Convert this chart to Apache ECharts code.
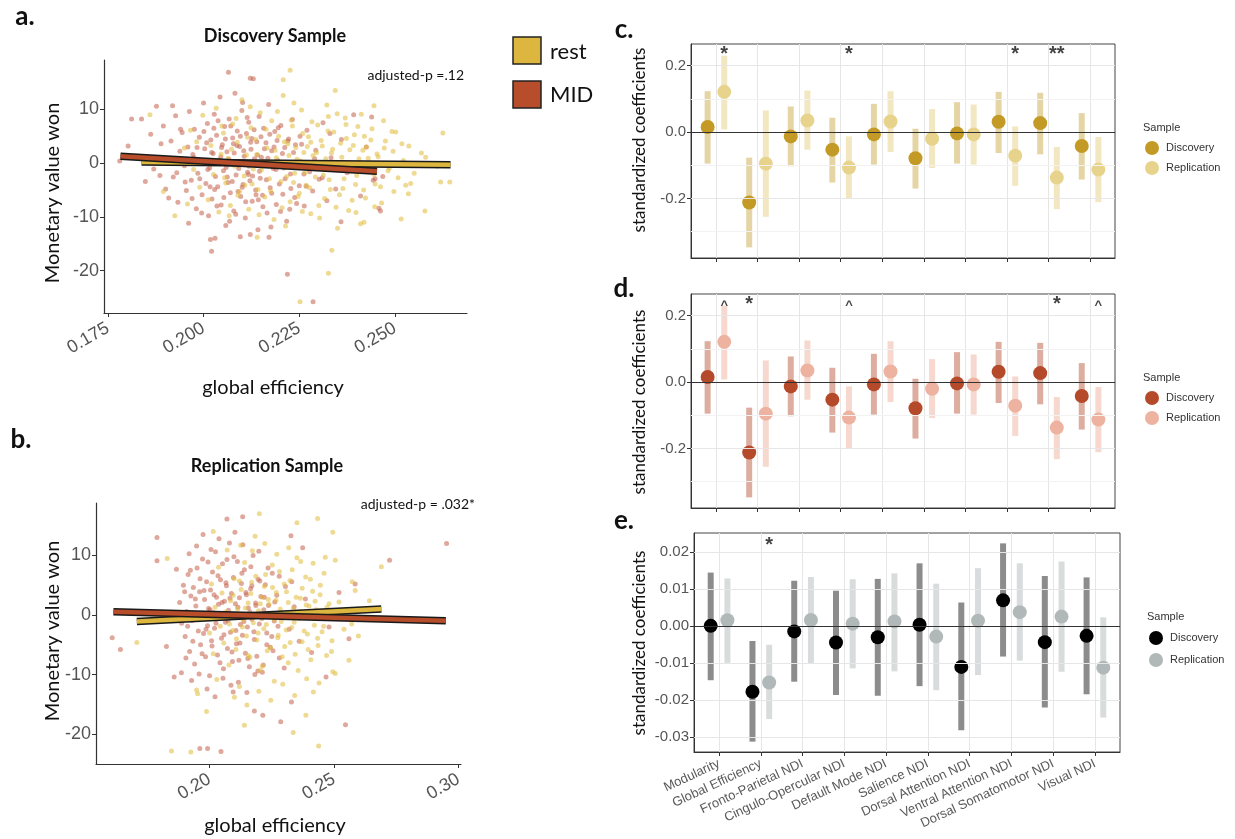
<!DOCTYPE html>
<html>
<head>
<meta charset="utf-8">
<script src="https://cdn.jsdelivr.net/npm/echarts@6/dist/echarts.min.js"></script>
<style>
html, body { margin: 0; padding: 0; background: #fff; }
#main { width: 1235px; height: 839px; }
</style>
</head>
<body>
<div id="main"></div>
<script>
// ---- scatter panels (a: discovery, b: replication)
var midA = [
  [0.1781,0.4],[0.1803,3.2],[0.1812,8.2],[0.1838,8.2],[0.1848,-3.4],[0.1886,-2.3],[0.1877,10.6],[0.1919,10.7],
  [0.1909,-6.5],[0.1961,-11.2],[0.2018,-14.2],[0.2030,-14.0],[0.2021,-16.4],[0.2219,-20.7],[0.2096,-13.7],
  [0.2122,-13.3],[0.2171,-13.8],[0.2065,16.9],[0.2122,15.8],[0.2439,8.6],[0.2458,-8.4],[0.2462,-8.9],
  [0.2359,-10.9],[0.2443,-3.2],[0.2286,-25.8],[0.2448,-2.9],
  [0.1853,1.2],[0.1862,5.4],[0.1870,-1.1],[0.1889,3.6],[0.1895,6.9],[0.1901,-4.8],[0.1908,0.9],[0.1915,4.1],
  [0.1921,-2.6],[0.1927,8.8],[0.1933,-7.3],[0.1938,2.2],[0.1944,5.7],[0.1950,-0.5],[0.1955,-5.1],[0.1959,3.0],
  [0.1963,9.6],[0.1968,-3.2],[0.1972,1.6],[0.1976,6.3],[0.1981,-8.5],[0.1985,-1.9],[0.1989,4.8],[0.1993,0.3],
  [0.1996,-5.9],[0.2000,11.2],[0.2003,2.7],[0.2006,-3.8],[0.2010,7.4],[0.2013,-9.8],[0.2016,-0.9],[0.2019,4.3],
  [0.2022,-6.7],[0.2025,1.8],[0.2028,9.1],[0.2031,-2.5],[0.2034,5.2],[0.2037,-4.4],[0.2040,0.6],[0.2043,12.3],
  [0.2046,-7.8],[0.2049,3.4],[0.2052,-1.4],[0.2055,6.8],[0.2058,-11.6],[0.2061,2.1],[0.2064,-3.6],[0.2067,8.2],
  [0.2070,-5.5],[0.2073,0.2],[0.2076,4.7],[0.2079,-8.9],[0.2082,13.0],[0.2085,-2.2],[0.2088,6.0],[0.2091,-0.4],
  [0.2094,3.1],[0.2097,-6.2],[0.2100,9.8],[0.2103,-4.0],[0.2106,1.3],[0.2109,-10.2],[0.2112,5.5],[0.2115,-1.7],
  [0.2118,7.6],[0.2121,-3.3],[0.2124,2.6],[0.2127,-7.1],[0.2130,15.7],[0.2133,0.8],[0.2136,-5.0],[0.2139,4.0],
  [0.2142,-12.4],[0.2145,8.7],[0.2148,-2.8],[0.2151,1.1],[0.2154,-6.0],[0.2157,6.5],[0.2160,-0.2],[0.2163,3.8],
  [0.2166,-9.3],[0.2170,10.9],[0.2174,-4.6],[0.2178,2.3],[0.2182,-1.0],[0.2186,5.9],[0.2190,-7.7],[0.2194,0.5],
  [0.2198,-3.9],[0.2202,7.0],[0.2207,-5.8],[0.2212,2.9],[0.2217,-10.8],[0.2222,4.5],[0.2227,-2.0],[0.2232,8.1],
  [0.2238,-6.4],[0.2244,0.0],[0.2250,-4.2],[0.2256,3.5],[0.2263,-8.0],[0.2270,6.1],[0.2277,-1.6],[0.2285,-5.2],
  [0.2293,2.4],[0.2302,-3.0],[0.2312,7.5],[0.2322,-7.0],[0.2333,1.0],[0.2345,-4.8],[0.2360,4.4],[0.2375,-1.8],
  [0.2392,9.0],[0.2410,-6.1],[0.2425,3.0],[0.2468,-2.5],
  [0.1975,1.0],[0.1990,-2.9],[0.2001,5.9],[0.2011,-1.2],[0.2021,2.0],[0.2029,-4.9],[0.2038,7.9],[0.2042,-0.1],
  [0.2047,2.9],[0.2053,-6.4],[0.2057,4.5],[0.2062,-2.6],[0.2066,0.7],[0.2071,6.9],[0.2075,-3.4],[0.2080,1.9],
  [0.2084,-9.5],[0.2087,3.3],[0.2092,-1.0],[0.2096,5.0],[0.2101,-4.5],[0.2105,2.3],[0.2110,-7.2],[0.2114,8.5],
  [0.2119,-0.6],[0.2123,3.9],[0.2128,-2.4],[0.2132,6.2],[0.2137,-5.9],[0.2141,1.5],[0.2146,-1.5],[0.2150,4.9],
  [0.2155,-8.1],[0.2159,2.7],[0.2164,-3.1],[0.2168,0.9],[0.2173,5.4],[0.2178,-5.6],[0.2184,3.0],[0.2189,-1.2],
  [0.2195,6.6],[0.2201,-9.0],[0.2206,1.8],[0.2213,-2.9],[0.2220,4.1],[0.2228,-4.7],[0.2235,2.0],[0.2243,-7.5],
  [0.2252,5.0],[0.2262,-2.0],[0.1930,-1.8],[0.1940,6.3],[0.1952,-3.5],[0.1962,0.4],[0.1970,-6.6],[0.1983,2.9],
  [0.1995,-9.3],[0.2008,3.8],[0.2017,-4.4],[0.2027,6.5],[0.2035,-8.0],[0.2045,1.2],[0.2059,-0.8],[0.2068,-10.8],
  [0.2078,3.6],[0.2090,-5.3],[0.2102,11.3],[0.2117,-2.1],[0.2126,4.6],[0.2143,-6.8],[0.2158,0.3],[0.2176,-11.9],
  [0.2192,4.2],[0.2210,-0.9],[0.2225,-8.6],[0.2240,3.4],[0.2268,-4.3],[0.2290,0.8],[0.2310,-2.7],[0.2330,5.5]
];
var restA = [
  [0.2226,17.3],[0.2208,15.5],[0.2344,13.5],[0.2625,5.6],[0.2619,-3.5],[0.2643,-3.5],[0.2578,-8.9],[0.2516,-10.4],
  [0.2335,-16.2],[0.2326,-20.5],[0.2252,-25.8],[0.2445,10.7],[0.2502,5.8],[0.2536,3.2],[0.2569,1.9],[0.2528,-4.1],
  [0.2541,-3.8],[0.2497,-5.3],[0.2419,-11.0],[0.2410,-11.3],[0.1860,9.0],[0.1895,-5.3],[0.1925,-9.8],[0.2140,-13.8],
  [0.1950,2.8],[0.1958,-7.6],[0.1966,6.1],[0.1974,-1.2],[0.1982,4.0],[0.1990,-4.5],[0.1998,8.9],[0.2005,0.4],
  [0.2012,-6.8],[0.2019,3.3],[0.2026,-2.1],[0.2033,10.2],[0.2040,-9.1],[0.2046,1.7],[0.2052,5.6],[0.2058,-3.7],
  [0.2064,0.9],[0.2070,-7.9],[0.2076,7.3],[0.2082,-0.6],[0.2088,3.9],[0.2094,-5.3],[0.2100,11.8],[0.2106,-2.4],
  [0.2112,1.5],[0.2118,-8.6],[0.2124,6.6],[0.2130,-1.1],[0.2136,4.4],[0.2142,-4.9],[0.2148,9.4],[0.2154,0.2],
  [0.2160,-6.3],[0.2166,2.8],[0.2172,-2.9],[0.2178,7.9],[0.2184,-10.5],[0.2190,1.0],[0.2196,5.0],[0.2202,-3.4],
  [0.2208,12.6],[0.2214,-0.8],[0.2220,3.6],[0.2226,-7.2],[0.2232,6.9],[0.2238,-1.9],[0.2244,0.7],[0.2250,-5.6],
  [0.2256,9.9],[0.2262,2.0],[0.2268,-4.1],[0.2274,4.9],[0.2280,-9.4],[0.2286,1.4],[0.2292,-2.6],[0.2298,7.1],
  [0.2304,-0.3],[0.2310,3.2],[0.2316,-6.6],[0.2322,10.8],[0.2328,-3.1],[0.2334,1.9],[0.2340,5.8],[0.2346,-8.2],
  [0.2352,0.1],[0.2358,3.7],[0.2364,-4.7],[0.2370,8.4],[0.2376,-1.4],[0.2382,2.5],[0.2388,-6.9],[0.2394,5.3],
  [0.2400,-2.3],[0.2406,0.8],[0.2412,9.1],[0.2418,-5.0],[0.2425,3.0],[0.2432,-1.6],[0.2440,6.4],[0.2448,-3.9],
  [0.2456,1.2],[0.2465,-7.4],[0.2475,4.1],[0.2485,-0.9],[0.2495,2.2],[0.2508,-2.7],[0.2522,0.5],[0.2550,-1.9],
  [0.2580,1.1],[0.2610,-0.6],
  [0.2055,-2.7],[0.2073,2.6],[0.2090,-6.0],[0.2103,0.3],[0.2115,4.8],[0.2127,-3.9],[0.2139,1.6],[0.2151,-1.3],
  [0.2163,6.3],[0.2175,-5.2],[0.2187,2.4],[0.2199,-0.4],[0.2205,-8.3],[0.2211,4.0],[0.2217,-2.5],[0.2223,1.4],
  [0.2229,8.0],[0.2235,-3.6],[0.2241,2.9],[0.2247,-6.2],[0.2253,0.4],[0.2259,5.5],[0.2265,-1.8],[0.2271,3.1],
  [0.2277,-4.6],[0.2283,7.7],[0.2289,-0.5],[0.2295,2.0],[0.2301,-7.9],[0.2307,4.2],[0.2313,-2.2],[0.2319,0.8],
  [0.2325,6.0],[0.2331,-4.9],[0.2337,2.6],[0.2343,-1.0],[0.2349,9.2],[0.2355,-5.9],[0.2361,1.1],[0.2367,-2.9],
  [0.2373,4.6],[0.2379,-8.8],[0.2385,0.0],[0.2391,3.3],[0.2397,-4.0],[0.2403,6.8],[0.2409,-1.2],[0.2416,2.4],
  [0.2423,-6.5],[0.2430,0.9],[0.2437,4.3],[0.2445,-2.1],[0.2453,1.7],[0.2462,-4.4],[0.2472,2.8],[0.2482,-1.4],
  [0.2492,5.9],[0.2505,-0.2],[0.2518,3.6],[0.2535,-5.7],[0.2048,6.9],[0.2067,-9.8],[0.2085,8.3],[0.2108,-4.1],
  [0.2122,10.5],[0.2145,-9.6],[0.2170,0.0],[0.2193,9.6],[0.2214,-11.7],[0.2236,11.2],[0.2258,-9.0],[0.2280,3.9],
  [0.2303,-10.2],[0.2326,8.7],[0.2350,-12.1],[0.2372,7.2],[0.2398,-9.2],[0.2420,5.0],[0.2447,-8.1],[0.2470,7.9]
];
var midB = [
  [0.1789,13.0],[0.1789,9.1],[0.1609,-3.8],[0.1642,-5.8],[0.1961,-22.4],[0.1992,-22.4],[0.2046,-22.9],[0.2070,16.1],
  [0.2133,16.5],[0.1867,7.7],[0.1858,-10.4],[0.1887,-9.7],[0.2095,-12.9],[0.2180,-16.1],[0.2214,-16.8],[0.2286,-17.9],
  [0.1827,-5.3],[0.2952,12.0],[0.2723,9.2],[0.2327,13.3],[0.2374,11.3],[0.2585,5.2],[0.2468,-10.4],[0.2546,-18.4],
  [0.2329,-14.6],
  [0.1880,2.1],[0.1888,-1.4],[0.1895,5.0],[0.1902,-3.6],[0.1908,0.6],[0.1914,6.8],[0.1920,-6.1],[0.1925,3.2],
  [0.1930,-0.9],[0.1935,4.6],[0.1940,-8.2],[0.1945,1.5],[0.1950,7.9],[0.1955,-2.7],[0.1960,3.9],[0.1964,-5.0],
  [0.1968,0.1],[0.1972,9.4],[0.1976,-3.1],[0.1980,2.6],[0.1984,-7.0],[0.1988,5.6],[0.1992,-1.8],[0.1996,1.1],
  [0.2000,-10.2],[0.2004,4.2],[0.2008,-4.3],[0.2012,7.2],[0.2016,0.4],[0.2020,-2.2],[0.2024,10.6],[0.2028,3.0],
  [0.2032,-6.7],[0.2036,1.8],[0.2040,-0.5],[0.2044,5.9],[0.2048,-3.9],[0.2052,8.6],[0.2056,-9.0],[0.2060,2.3],
  [0.2064,-1.2],[0.2068,4.9],[0.2072,-5.6],[0.2076,0.8],[0.2080,12.1],[0.2084,-2.9],[0.2088,3.6],[0.2092,-7.8],
  [0.2096,6.3],[0.2100,-0.3],[0.2104,1.9],[0.2108,-4.8],[0.2112,9.0],[0.2116,-11.3],[0.2120,2.9],[0.2124,-1.6],
  [0.2128,5.3],[0.2132,-3.4],[0.2136,0.0],[0.2140,7.6],[0.2144,-6.4],[0.2148,3.4],[0.2152,-2.0],[0.2156,1.2],
  [0.2160,-8.7],[0.2165,4.4],[0.2170,-0.7],[0.2175,10.0],[0.2180,-4.1],[0.2185,2.0],[0.2190,-6.9],[0.2195,6.0],
  [0.2200,-1.5],[0.2206,3.1],[0.2212,-9.6],[0.2218,0.9],[0.2224,5.1],[0.2230,-3.0],[0.2237,1.6],[0.2244,-5.4],
  [0.2252,7.0],[0.2260,-1.0],[0.2270,3.3],[0.2280,-7.2],[0.2292,0.3],[0.2305,4.8],[0.2320,-2.4],[0.2340,1.4],
  [0.2360,-4.4],[0.2385,2.7],[0.2410,-6.3],[0.2440,0.6],[0.2480,-2.0],[0.2520,3.8],[0.2560,-4.0],
  [0.1900,3.9],[0.1912,-1.9],[0.1923,7.5],[0.1933,-4.4],[0.1943,2.7],[0.1953,-0.3],[0.1962,6.1],[0.1970,-6.5],
  [0.1978,4.1],[0.1986,-2.4],[0.1994,8.9],[0.2002,0.9],[0.2010,-5.2],[0.2018,3.4],[0.2026,-1.4],[0.2034,6.6],
  [0.2042,-8.0],[0.2050,2.1],[0.2058,-3.3],[0.2066,5.4],[0.2074,-0.9],[0.2082,2.8],[0.2090,-6.2],[0.2098,9.8],
  [0.2106,-2.6],[0.2114,1.3],[0.2122,-4.7],[0.2130,7.0],[0.2138,-1.1],[0.2146,3.8],[0.2154,-7.3],[0.2162,0.5],
  [0.2170,4.9],[0.2178,-2.8],[0.2186,1.6],[0.2194,-9.4],[0.2202,5.7],[0.2210,-0.6],[0.2220,3.0],[0.2230,-5.0],
  [0.2240,0.2],[0.2250,-3.6],[0.2262,2.2],[0.2275,-1.9],[0.1905,-7.2],[0.1918,10.3],[0.1928,-11.0],[0.1948,11.6],
  [0.1958,-9.9],[0.1974,13.5],[0.1990,-12.4],[0.2006,11.0],[0.2022,-13.7],[0.2038,12.8],[0.2054,-10.6],[0.2070,9.3],
  [0.2086,-11.8],[0.2102,13.9],[0.2118,-7.6],[0.2134,11.8],[0.2150,-13.0],[0.2166,8.1],[0.2182,-10.0],[0.2198,10.7],
  [0.2216,-8.4],[0.2235,7.9],[0.2255,-6.0],[0.2280,6.5],[0.2300,-8.9],[0.2330,5.6]
];
var restB = [
  [0.1708,-4.6],[0.1847,-22.8],[0.1925,-23.0],[0.2015,14.0],[0.2200,17.0],[0.1948,-12.6],[0.1952,-13.2],[0.1988,-16.2],
  [0.2140,-18.5],[0.2690,8.1],[0.2434,16.2],[0.2495,13.9],[0.2351,15.5],[0.2505,9.2],[0.2642,2.4],[0.2573,5.6],
  [0.2598,-3.5],[0.2571,-1.5],[0.2495,-9.5],[0.2417,-12.9],[0.2387,-16.8],[0.2336,-19.7],[0.2438,-22.0],[0.1830,9.5],
  [0.2000,-3.0],[0.2008,5.2],[0.2015,-6.5],[0.2022,1.3],[0.2029,-10.8],[0.2036,8.0],[0.2043,-1.9],[0.2050,3.7],
  [0.2057,-4.7],[0.2064,0.5],[0.2071,10.9],[0.2078,-8.4],[0.2085,2.4],[0.2092,-2.6],[0.2099,6.1],[0.2106,-5.8],
  [0.2113,1.0],[0.2120,-12.0],[0.2127,4.3],[0.2134,-0.8],[0.2141,8.8],[0.2148,-3.5],[0.2155,2.0],[0.2162,-7.1],
  [0.2169,5.5],[0.2176,-1.3],[0.2183,13.2],[0.2190,-4.2],[0.2197,0.7],[0.2204,-9.3],[0.2211,3.0],[0.2218,-2.3],
  [0.2225,6.8],[0.2232,-6.0],[0.2239,1.8],[0.2246,-0.2],[0.2253,4.6],[0.2260,-11.1],[0.2267,2.5],[0.2274,-3.8],
  [0.2281,7.3],[0.2288,-1.1],[0.2295,0.3],[0.2302,-5.3],[0.2309,3.9],[0.2316,-8.0],[0.2323,5.8],[0.2330,-2.1],
  [0.2337,1.1],[0.2344,-6.6],[0.2351,9.6],[0.2358,-0.6],[0.2365,2.8],[0.2372,-4.5],[0.2379,0.2],[0.2386,6.4],
  [0.2393,-3.2],[0.2400,1.5],[0.2407,-7.5],[0.2414,4.0],[0.2421,-1.7],[0.2428,0.9],[0.2436,-5.1],[0.2444,3.4],
  [0.2452,-2.8],[0.2460,7.0],[0.2470,-6.8],[0.2480,1.9],[0.2492,-4.3],[0.2505,-9.8],[0.2520,2.2],[0.2540,-2.4],
  [0.2560,-7.6],[0.2585,4.1],
  [0.2080,-1.5],[0.2095,3.3],[0.2108,-4.0],[0.2120,5.7],[0.2132,-2.0],[0.2144,1.2],[0.2156,-6.8],[0.2166,3.6],
  [0.2176,-0.4],[0.2186,6.5],[0.2195,-3.0],[0.2204,1.9],[0.2212,-8.6],[0.2220,4.8],[0.2228,-1.6],[0.2236,2.6],
  [0.2244,-5.5],[0.2252,8.4],[0.2260,-0.8],[0.2268,3.8],[0.2276,-3.4],[0.2284,1.0],[0.2292,-7.0],[0.2300,5.2],
  [0.2308,-2.5],[0.2316,2.1],[0.2324,-4.6],[0.2332,7.6],[0.2340,-1.2],[0.2348,3.0],[0.2356,-9.3],[0.2364,0.6],
  [0.2372,4.5],[0.2380,-2.7],[0.2388,1.7],[0.2396,-5.8],[0.2405,6.0],[0.2414,-0.3],[0.2424,2.3],[0.2434,-3.9],
  [0.2445,5.0],[0.2458,-1.9],[0.2472,1.3],[0.2490,-6.1],[0.2100,-13.8],[0.2125,11.7],[0.2150,-15.1],[0.2172,10.8],
  [0.2198,-12.8],[0.2222,12.0],[0.2246,-14.3],[0.2270,10.2],[0.2294,-11.6],[0.2318,11.3],[0.2342,-13.5],[0.2366,9.0],
  [0.2390,-10.7],[0.2416,8.7],[0.2440,-11.4],[0.2465,9.7]
];
// fitted lines (end points)
var fitMidA = [[0.1783, 1.3], [0.2453, -1.5]];
var fitRestA = [[0.1838, 0.2], [0.2645, -0.3]];
var fitMidB = [[0.1614, 0.55], [0.2949, -0.95]];
var fitRestB = [[0.1708, -1.1], [0.2690, 1.0]];

var ticksAx = [0.175, 0.200, 0.225, 0.250];
var ticksBx = [0.20, 0.25, 0.30];
var ticksY = [-20, -10, 0, 10];

// ---- coefficient panels
var categories = ['Modularity', 'Global Efficiency', 'Fronto-Parietal NDI', 'Cingulo-Opercular NDI',
  'Default Mode NDI', 'Salience NDI', 'Dorsal Attention NDI', 'Ventral Attention NDI',
  'Dorsal Somatomotor NDI', 'Visual NDI'];

// panels c and d show the same estimates
var discEst = [0.015, -0.212, -0.013, -0.053, -0.007, -0.079, -0.004, 0.031, 0.027, -0.042];
var discLo = [-0.095, -0.347, -0.103, -0.152, -0.098, -0.170, -0.095, -0.063, -0.067, -0.143];
var discHi = [0.123, -0.077, 0.077, 0.043, 0.085, 0.010, 0.090, 0.121, 0.118, 0.057];
var repEst = [0.121, -0.095, 0.035, -0.107, 0.032, -0.020, -0.007, -0.071, -0.137, -0.113];
var repLo = [0.008, -0.255, -0.053, -0.200, -0.060, -0.108, -0.098, -0.162, -0.232, -0.211];
var repHi = [0.230, 0.065, 0.125, -0.013, 0.123, 0.069, 0.083, 0.017, -0.045, -0.015];

var eDiscEst = [0.0000, -0.0178, -0.0015, -0.0045, -0.0031, 0.0003, -0.0111, 0.0069, -0.0044, -0.0027];
var eDiscLo = [-0.0147, -0.0313, -0.0151, -0.0187, -0.0189, -0.0163, -0.0282, -0.0083, -0.0221, -0.0185];
var eDiscHi = [0.0144, -0.0041, 0.0122, 0.0095, 0.0127, 0.0169, 0.0063, 0.0223, 0.0135, 0.0131];
var eRepEst = [0.0015, -0.0153, 0.0016, 0.0006, 0.0012, -0.0029, 0.0014, 0.0037, 0.0025, -0.0113];
var eRepLo = [-0.0100, -0.0252, -0.0102, -0.0115, -0.0123, -0.0174, -0.0133, -0.0094, -0.0124, -0.0248];
var eRepHi = [0.0128, -0.0051, 0.0132, 0.0126, 0.0142, 0.0114, 0.0156, 0.0169, 0.0174, 0.0023];

var cMarkX = [1.2, 4.2, 8.2, 9.2];
var cMarkText = ['*', '*', '*', '**'];
var dMarkX = [1.2, 1.8, 4.2, 9.2, 10.2];
var dMarkText = ['^', '*', '^', '*', '^'];
var eMarkX = [2.2];
var eMarkText = ['*'];

var catTicks = [1, 2, 3, 4, 5, 6, 7, 8, 9, 10];
var cdMajor = [-0.2, 0, 0.2];
var cdMinor = [-0.3, -0.1, 0.1];
var eMajor = [-0.03, -0.02, -0.01, 0, 0.01, 0.02];
var eMinor = [-0.025, -0.015, -0.005, 0.005, 0.015];

var chart = echarts.init(document.getElementById('main'));
var FONT = "'Liberation Sans', Arial, sans-serif";
var LATO = "Lato, 'Open Sans', sans-serif";

function rangeData(lo, hi, off) {
  return lo.map(function (v, i) { return [i + 1 + off, v, hi[i]]; });
}
function pointData(est, off) {
  return est.map(function (v, i) { return [i + 1 + off, v]; });
}
function errBar(params, api) {
  var a = api.coord([api.value(0), api.value(1)]);
  var b = api.coord([api.value(0), api.value(2)]);
  return {
    type: 'rect',
    shape: { x: a[0] - 3, y: b[1], width: 6, height: a[1] - b[1] },
    style: { fill: api.visual('color') }
  };
}

function scatterX(gi, min, max, ticks, dec) {
  return {
    gridIndex: gi, type: 'value', min: min, max: max,
    axisLine: { show: true, onZero: false, lineStyle: { color: '#333', width: 1.2 } },
    axisTick: { show: true, length: 4, customValues: ticks, lineStyle: { color: '#333' } },
    axisLabel: {
      customValues: ticks, rotate: 30, fontSize: 18, color: '#555', margin: 14, fontFamily: FONT,
      formatter: function (v) { return v.toFixed(dec); }
    },
    splitLine: { show: false }
  };
}
function scatterY(gi, min, max) {
  return {
    gridIndex: gi, type: 'value', min: min, max: max,
    axisLine: { show: true, onZero: false, lineStyle: { color: '#333', width: 1.2 } },
    axisTick: { show: true, length: 4, customValues: ticksY, lineStyle: { color: '#333' } },
    axisLabel: { customValues: ticksY, fontSize: 18, color: '#555', margin: 5, fontFamily: FONT },
    splitLine: { show: false }
  };
}
function coefX(gi, showLabels) {
  return {
    gridIndex: gi, type: 'value', min: 0.4, max: 10.6,
    axisLine: { show: true, onZero: false, lineStyle: { color: '#333' } },
    axisTick: { show: true, length: 4, customValues: catTicks, lineStyle: { color: '#333' } },
    axisLabel: {
      show: showLabels, customValues: catTicks, rotate: 25, fontSize: 13, color: '#5a5a5a',
      margin: 11, fontFamily: FONT,
      formatter: function (v) { return categories[Math.round(v) - 1]; }
    },
    splitLine: { show: false }
  };
}
function coefY(gi, min, max, major, dec) {
  return {
    gridIndex: gi, type: 'value', min: min, max: max,
    axisLine: { show: true, onZero: false, lineStyle: { color: '#333' } },
    axisTick: { show: true, length: 4, customValues: major, lineStyle: { color: '#333' } },
    axisLabel: {
      customValues: major, fontSize: 15, color: '#555', margin: 5, fontFamily: FONT,
      formatter: function (v) { return v.toFixed(dec); }
    },
    splitLine: { show: false }
  };
}
function gridLines(gi, major, minor) {
  var data = [];
  catTicks.forEach(function (v) { data.push({ xAxis: v, lineStyle: { color: '#e6e6e6', width: 1 } }); });
  minor.forEach(function (v) { data.push({ yAxis: v, lineStyle: { color: '#f2f2f2', width: 1 } }); });
  major.forEach(function (v) { data.push({ yAxis: v, lineStyle: { color: '#e6e6e6', width: 1 } }); });
  data.push({ yAxis: 0, lineStyle: { color: '#333', width: 1.2 } });
  return {
    type: 'scatter', xAxisIndex: gi, yAxisIndex: gi, data: [[1, 0]], symbolSize: 0, z: 1, silent: true,
    markLine: { symbol: 'none', silent: true, label: { show: false }, lineStyle: { type: 'solid' }, data: data }
  };
}
function barSeries(gi, lo, hi, off, color) {
  return {
    type: 'custom', xAxisIndex: gi, yAxisIndex: gi, renderItem: errBar, silent: true, z: 2,
    itemStyle: { color: color }, encode: { x: 0, y: [1, 2] }, data: rangeData(lo, hi, off)
  };
}
function dotSeries(gi, est, off, color) {
  return {
    type: 'scatter', xAxisIndex: gi, yAxisIndex: gi, symbolSize: 14, z: 3, silent: true,
    itemStyle: { color: color, opacity: 1 }, data: pointData(est, off)
  };
}
function markSeries(gi, xs, texts, y) {
  return {
    type: 'scatter', xAxisIndex: gi, yAxisIndex: gi, symbolSize: 1, z: 4, silent: true,
    itemStyle: { color: 'rgba(0,0,0,0)' },
    label: {
      show: true, position: 'inside', fontFamily: FONT,
      formatter: function (p) { return p.name === '^' ? '{c|^}' : '{s|' + p.name + '}'; },
      rich: {
        s: { fontSize: 20, fontWeight: 'bold', color: '#111', fontFamily: FONT },
        c: { fontSize: 13, fontWeight: 'bold', color: '#111', fontFamily: FONT }
      }
    },
    data: xs.map(function (x, i) { return { name: texts[i], value: [x, y] }; })
  };
}
function ptSeries(gi, data, color) {
  return {
    type: 'scatter', xAxisIndex: gi, yAxisIndex: gi, symbolSize: 5, z: 2, silent: true,
    itemStyle: { color: color, opacity: 0.55 }, data: data
  };
}
function fitSeries(gi, data, color) {
  return [
    { type: 'line', xAxisIndex: gi, yAxisIndex: gi, data: data, symbol: 'none', z: 3, silent: true,
      lineStyle: { color: '#1a1a1a', width: 7.5 } },
    { type: 'line', xAxisIndex: gi, yAxisIndex: gi, data: data, symbol: 'none', z: 3, silent: true,
      lineStyle: { color: color, width: 4.5 } }
  ];
}

var restCol = '#dcb63e';
var midCol = '#b84d2b';
var series = [
  ptSeries(0, midA, '#c4604a'),
  ptSeries(0, restA, '#e2bb3c')
].concat(fitSeries(0, fitRestA, restCol), fitSeries(0, fitMidA, midCol), [
  ptSeries(1, midB, '#c4604a'),
  ptSeries(1, restB, '#e2bb3c')
], fitSeries(1, fitRestB, restCol), fitSeries(1, fitMidB, midCol), [
  gridLines(2, cdMajor, cdMinor),
  barSeries(2, discLo, discHi, -0.2, 'rgba(196,154,38,0.42)'),
  barSeries(2, repLo, repHi, 0.2, 'rgba(232,211,140,0.55)'),
  dotSeries(2, discEst, -0.2, '#c49a26'),
  dotSeries(2, repEst, 0.2, '#e8d38c'),
  markSeries(2, cMarkX, cMarkText, 0.232),
  gridLines(3, cdMajor, cdMinor),
  barSeries(3, discLo, discHi, -0.2, 'rgba(180,74,42,0.45)'),
  barSeries(3, repLo, repHi, 0.2, 'rgba(238,178,160,0.5)'),
  dotSeries(3, discEst, -0.2, '#b44a2a'),
  dotSeries(3, repEst, 0.2, '#eeb2a0'),
  markSeries(3, dMarkX, dMarkText, 0.232),
  gridLines(4, eMajor, eMinor),
  barSeries(4, eDiscLo, eDiscHi, -0.2, 'rgba(0,0,0,0.45)'),
  barSeries(4, eRepLo, eRepHi, 0.2, 'rgba(170,178,178,0.45)'),
  dotSeries(4, eDiscEst, -0.2, '#000000'),
  dotSeries(4, eRepEst, 0.2, '#b1b8b8'),
  markSeries(4, eMarkX, eMarkText, 0.0218)
]);

function txt(x, y, text, size, opts) {
  opts = opts || {};
  return {
    type: 'text', x: x, y: y, rotation: opts.rot || 0, z: 10,
    style: {
      text: text, fontSize: size, fontFamily: opts.family || FONT, fontWeight: opts.weight || 'normal',
      fill: opts.color || '#111', align: opts.align || 'center', verticalAlign: 'middle'
    }
  };
}
function legendDot(x, y, color) {
  return { type: 'circle', shape: { cx: x, cy: y, r: 7 }, style: { fill: color }, z: 10 };
}

var graphics = [
  txt(25, 17, 'a.', 26, { weight: 'bold', family: LATO }),
  txt(21, 440, 'b.', 26, { weight: 'bold', family: LATO }),
  txt(624, 30, 'c.', 26, { weight: 'bold', family: LATO }),
  txt(624, 289, 'd.', 26, { weight: 'bold', family: LATO }),
  txt(624, 521, 'e.', 26, { weight: 'bold', family: LATO }),
  txt(275, 36, 'Discovery Sample', 18, { weight: 'bold', family: LATO }),
  txt(267, 466, 'Replication Sample', 18, { weight: 'bold', family: LATO }),
  txt(464, 75, 'adjusted-p =.12', 14, { align: 'right', family: LATO }),
  txt(475, 504, 'adjusted-p = .032*', 14, { align: 'right', family: LATO }),
  txt(273, 388, 'global efficiency', 20, { family: LATO }),
  txt(275, 826, 'global efficiency', 20, { family: LATO }),
  txt(53, 193, 'Monetary value won', 20, { rot: Math.PI / 2, family: LATO }),
  txt(53, 631, 'Monetary value won', 20, { rot: Math.PI / 2, family: LATO }),
  txt(640, 140, 'standardized coefficients', 17, { rot: Math.PI / 2, family: LATO }),
  txt(640, 402, 'standardized coefficients', 17, { rot: Math.PI / 2, family: LATO }),
  txt(640, 643, 'standardized coefficients', 17, { rot: Math.PI / 2, family: LATO }),
  { type: 'rect', shape: { x: 513, y: 37, width: 28, height: 27 }, style: { fill: restCol, stroke: '#222', lineWidth: 1.5 }, z: 10 },
  { type: 'rect', shape: { x: 513, y: 81, width: 28, height: 27 }, style: { fill: midCol, stroke: '#222', lineWidth: 1.5 }, z: 10 },
  txt(550, 52, 'rest', 22, { align: 'left', family: LATO }),
  txt(550, 95, 'MID', 22, { align: 'left', family: LATO }),
  // legends for c, d, e
  txt(1143, 128, 'Sample', 11, { align: 'left', color: '#333' }),
  legendDot(1152, 148, '#c49a26'), txt(1166, 148, 'Discovery', 11, { align: 'left', color: '#333' }),
  legendDot(1152, 168, '#e8d38c'), txt(1166, 168, 'Replication', 11, { align: 'left', color: '#333' }),
  txt(1143, 378, 'Sample', 11, { align: 'left', color: '#333' }),
  legendDot(1152, 398, '#b44a2a'), txt(1166, 398, 'Discovery', 11, { align: 'left', color: '#333' }),
  legendDot(1152, 418, '#eeb2a0'), txt(1166, 418, 'Replication', 11, { align: 'left', color: '#333' }),
  txt(1147, 617, 'Sample', 11, { align: 'left', color: '#333' }),
  legendDot(1156, 638, '#000000'), txt(1170, 638, 'Discovery', 11, { align: 'left', color: '#333' }),
  legendDot(1156, 660, '#b1b8b8'), txt(1170, 660, 'Replication', 11, { align: 'left', color: '#333' })
];

var option = {
  animation: false,
  backgroundColor: '#fff',
  textStyle: { fontFamily: FONT },
  grid: [
    { left: 104, top: 60, width: 363, height: 253, outerBoundsMode: 'none' },
    { left: 96, top: 503, width: 365, height: 261, outerBoundsMode: 'none' },
    { left: 691, top: 44, width: 424, height: 214, show: true, borderColor: '#444', borderWidth: 1, backgroundColor: 'transparent', outerBoundsMode: 'none' },
    { left: 691, top: 294, width: 424, height: 214, show: true, borderColor: '#444', borderWidth: 1, backgroundColor: 'transparent', outerBoundsMode: 'none' },
    { left: 694, top: 533, width: 426, height: 219, show: true, borderColor: '#444', borderWidth: 1, backgroundColor: 'transparent', outerBoundsMode: 'none' }
  ],
  xAxis: [
    scatterX(0, 0.174, 0.2688, ticksAx, 3),
    scatterX(1, 0.1544, 0.301, ticksBx, 2),
    coefX(2, false),
    coefX(3, false),
    coefX(4, true)
  ],
  yAxis: [
    scatterY(0, -27.9, 19.2),
    scatterY(1, -25, 18.8),
    coefY(2, -0.379, 0.265, cdMajor, 1),
    coefY(3, -0.379, 0.265, cdMajor, 1),
    coefY(4, -0.0341, 0.0251, eMajor, 2)
  ],
  series: series,
  graphic: graphics
};

chart.setOption(option);
</script>
</body>
</html>
